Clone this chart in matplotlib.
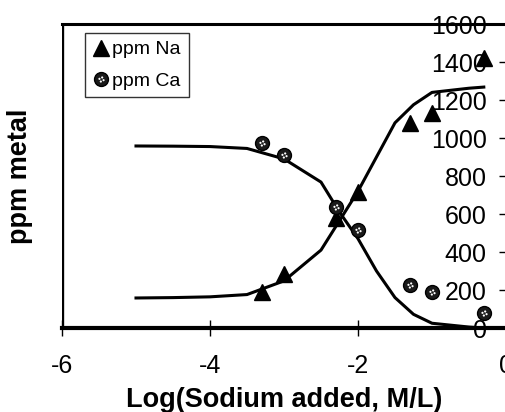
import numpy as np
import matplotlib.pyplot as plt
from matplotlib.path import Path

plt.rcParams['font.family'] = ['Liberation Sans', 'DejaVu Sans']
plt.rcParams['axes.unicode_minus'] = False

# measured points
log_na = [-3.3, -3.0, -2.3, -2.0, -1.3, -1.0, -0.3]
ppm_na = [190, 285, 580, 715, 1080, 1130, 1420]
ppm_ca = [975, 910, 637, 516, 226, 189, 79]

# fitted curves
fit_x = [-5.0, -4.5, -4.0, -3.5, -3.0, -2.5, -2.25, -2.0, -1.75, -1.5, -1.25, -1.0, -0.5, -0.3]
fit_na = [158, 160, 164, 176, 248, 410, 565, 720, 900, 1080, 1175, 1240, 1262, 1268]
fit_ca = [958, 957, 955, 945, 890, 768, 610, 470, 300, 160, 72, 25, 5, 0]

# dotted circle marker: four small white dots
dots = Path.make_compound_path(*[Path.circle((dx, dy), 0.16)
                                 for dx, dy in [(-0.3, 0.1), (0.3, -0.1), (0.1, 0.3), (-0.1, -0.3)]])

fig = plt.figure(figsize=(5.05, 4.12), dpi=100)
ax = fig.add_axes([62/505, 84/412, 444/505, 304/412])

ax.plot(fit_x, fit_na, color='black', lw=2.2, zorder=2)
ax.plot(fit_x, fit_ca, color='black', lw=2.2, zorder=2)
na, = ax.plot(log_na, ppm_na, '^', color='black', ms=11, ls='none', zorder=3)
ca, = ax.plot(log_na, ppm_ca, 'o', mfc='#1a1a1a', mec='black', ms=10, ls='none', zorder=3)
ax.plot(log_na, ppm_ca, marker=dots, color='white', mew=0, ms=4.5, ls='none', zorder=4)
ca_dot, = ax.plot([], [], marker=dots, color='white', mew=0, ms=4.5, ls='none')

ax.set_xlim(-6, 0)
ax.set_ylim(0, 1600)
ax.set_xticks([-6, -4, -2, 0])
ax.set_yticks(np.arange(0, 1601, 200))

# y axis sits at x = 0, frame line at x = -6
ax.spines['left'].set_position(('data', 0))
ax.spines['left'].set_visible(False)
ax.spines['right'].set_visible(False)
ax.axvline(-6, color='black', lw=2.4)
ax.spines['top'].set_linewidth(2.2)
ax.spines['bottom'].set_linewidth(3)

ax.tick_params(axis='y', direction='out', length=5, width=1, pad=9, labelsize=18)
ax.tick_params(axis='x', direction='inout', length=12, width=1, pad=13, labelsize=18)

ax.set_xlabel('Log(Sodium added, M/L)', fontsize=19.5, fontweight='bold')
ax.xaxis.set_label_coords(0.5, -0.237)
ax.xaxis.label.set_va('center')
ax.set_ylabel('ppm metal', fontsize=19.5, fontweight='bold')
ax.yaxis.set_label_coords(-0.095, 0.5)
ax.yaxis.label.set_va('center')

leg = ax.legend([na, (ca, ca_dot)], ['ppm Na', 'ppm Ca'],
                loc='upper left', bbox_to_anchor=(23/444, 1 - 9/304), borderaxespad=0,
                fontsize=14, frameon=True, fancybox=False, edgecolor='black',
                handlelength=0.8, handletextpad=0.2, borderpad=0.4, labelspacing=0.7)
leg.get_frame().set_linewidth(1)

fig.savefig('out.png', dpi=100)
